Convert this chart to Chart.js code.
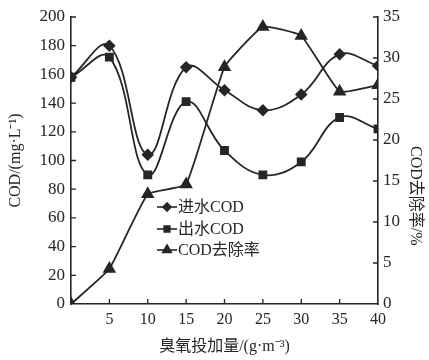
<!DOCTYPE html>
<html>
<head>
<meta charset="utf-8">
<script src="https://cdn.jsdelivr.net/npm/chart.js@4"></script>
<style>
html,body{margin:0;padding:0;background:#fff;}
#wrap{position:relative;width:429px;height:360px;}
</style>
</head>
<body>
<div id="wrap"><canvas id="c" width="429" height="360"></canvas></div>
<script>
// ---- data ----
const dosage = [0, 5, 10, 15, 20, 25, 30, 35, 40];
const influentCOD = [158, 180, 104, 165, 149, 135, 146, 174, 166];
const effluentCOD = [158, 172, 90, 141, 107, 90, 99, 130, 122];
const removalRate = [0, 4.3, 13.4, 14.6, 28.9, 33.8, 32.7, 25.9, 26.7];
const seriesNames = ['进水COD', '出水COD', 'COD去除率'];
const xTitle = '臭氧投加量/(g·m⁻³)';
const yTitle = 'COD/(mg·L⁻¹)';
const y1Title = 'COD去除率/%';

const INK = '#262626';
const FONT = "'Liberation Serif', 'Noto Sans CJK SC', serif";

function pts(ys){ return dosage.map((x,i)=>({x:x, y:ys[i]})); }

const innerTicks = {
  id:'innerTicks',
  afterDatasetsDraw(chart){
    const ctx = chart.ctx, L = 5;
    ctx.save();
    ctx.strokeStyle = INK; ctx.lineWidth = 1.3;
    const xs = chart.scales.x, ys = chart.scales.y, y1 = chart.scales.y1;
    ctx.beginPath();
    xs.ticks.forEach(t=>{ if(t.value===0||t.value===40) return; const px=xs.getPixelForValue(t.value); ctx.moveTo(px, ys.bottom); ctx.lineTo(px, ys.bottom-L); });
    ys.ticks.forEach(t=>{ if(t.value===0) return; const py=ys.getPixelForValue(t.value); ctx.moveTo(xs.left, py); ctx.lineTo(xs.left+L, py); });
    y1.ticks.forEach(t=>{ if(t.value===0) return; const py=y1.getPixelForValue(t.value); ctx.moveTo(xs.right, py); ctx.lineTo(xs.right-L, py); });
    ctx.stroke();
    // right axis title, slightly below centre as in the original
    ctx.fillStyle = INK;
    ctx.font = '16px ' + FONT;
    ctx.textAlign = 'center'; ctx.textBaseline = 'middle';
    ctx.translate(415, y1.getPixelForValue(13.2));
    ctx.rotate(Math.PI/2);
    ctx.fillText(y1Title, 0, 0);
    ctx.restore();
  }
};

const innerLegend = {
  id:'innerLegend',
  afterDraw(chart){
    const ctx = chart.ctx;
    const x0 = 157, rows = [207, 229, 250];
    ctx.save();
    chart.data.datasets.forEach((ds,i)=>{
      const y = rows[i];
      ctx.strokeStyle = INK; ctx.lineWidth = 1.6;
      ctx.beginPath(); ctx.moveTo(x0, y); ctx.lineTo(x0+20, y); ctx.stroke();
      ctx.fillStyle = INK;
      Chart.helpers.drawPoint(ctx, {pointStyle: ds.pointStyle, radius: ds.pointRadius-1, rotation:0, borderWidth:1}, x0+10, y);
      ctx.fillStyle = INK;
      ctx.font = '16px ' + FONT;
      ctx.textBaseline = 'middle';
      ctx.textAlign = 'left';
      ctx.fillText(ds.label, x0+21, y+1);
    });
    ctx.restore();
  }
};

const common = {
  borderColor: INK, backgroundColor: INK, pointBackgroundColor: INK, pointBorderColor: INK,
  borderWidth: 1.8, fill:false
};

new Chart(document.getElementById('c'), {
  type:'line',
  data:{
    datasets:[
      Object.assign({label:seriesNames[0], data:pts(influentCOD), yAxisID:'y', pointStyle:'rectRot', pointRadius:5, tension:0.4}, common),
      Object.assign({label:seriesNames[1], data:pts(effluentCOD), yAxisID:'y', pointStyle:'rect', pointRadius:5, tension:0.4}, common),
      Object.assign({label:seriesNames[2], data:pts(removalRate), yAxisID:'y1', pointStyle:'triangle', pointRadius:6, tension:0.12}, common)
    ]
  },
  options:{
    responsive:false, animation:false,
    layout:{padding:{top:17, left:0, right:0, bottom:0}},
    plugins:{legend:{display:false}, tooltip:{enabled:false}},
    scales:{
      x:{
        type:'linear', min:0, max:40,
        ticks:{stepSize:5, color:INK, font:{family:FONT, size:16}, padding:6,
          callback:(v)=> v===0 ? '' : String(v)},
        grid:{display:true, drawOnChartArea:false, drawTicks:false},
        border:{display:true, color:INK, width:1.6},
        title:{display:true, text:xTitle, color:INK, font:{family:FONT, size:16}, padding:{top:4}},
        afterFit(s){ s.height = 56; }
      },
      y:{
        position:'left', min:0, max:200,
        ticks:{stepSize:20, color:INK, font:{family:FONT, size:17}, padding:6},
        grid:{display:true, drawOnChartArea:false, drawTicks:false},
        border:{display:true, color:INK, width:1.6},
        title:{display:true, text:yTitle, color:INK, font:{family:FONT, size:16}, padding:{top:6, bottom:0}},
        afterFit(s){ s.width = 71; }
      },
      y1:{
        position:'right', min:0, max:35,
        ticks:{stepSize:5, color:INK, font:{family:FONT, size:17}, padding:5},
        grid:{display:true, drawOnChartArea:false, drawTicks:false},
        border:{display:true, color:INK, width:1.6},
        title:{display:false, text:y1Title},
        afterFit(s){ s.width = 51; }
      }
    }
  },
  plugins:[innerTicks, innerLegend]
});
</script>
</body>
</html>
